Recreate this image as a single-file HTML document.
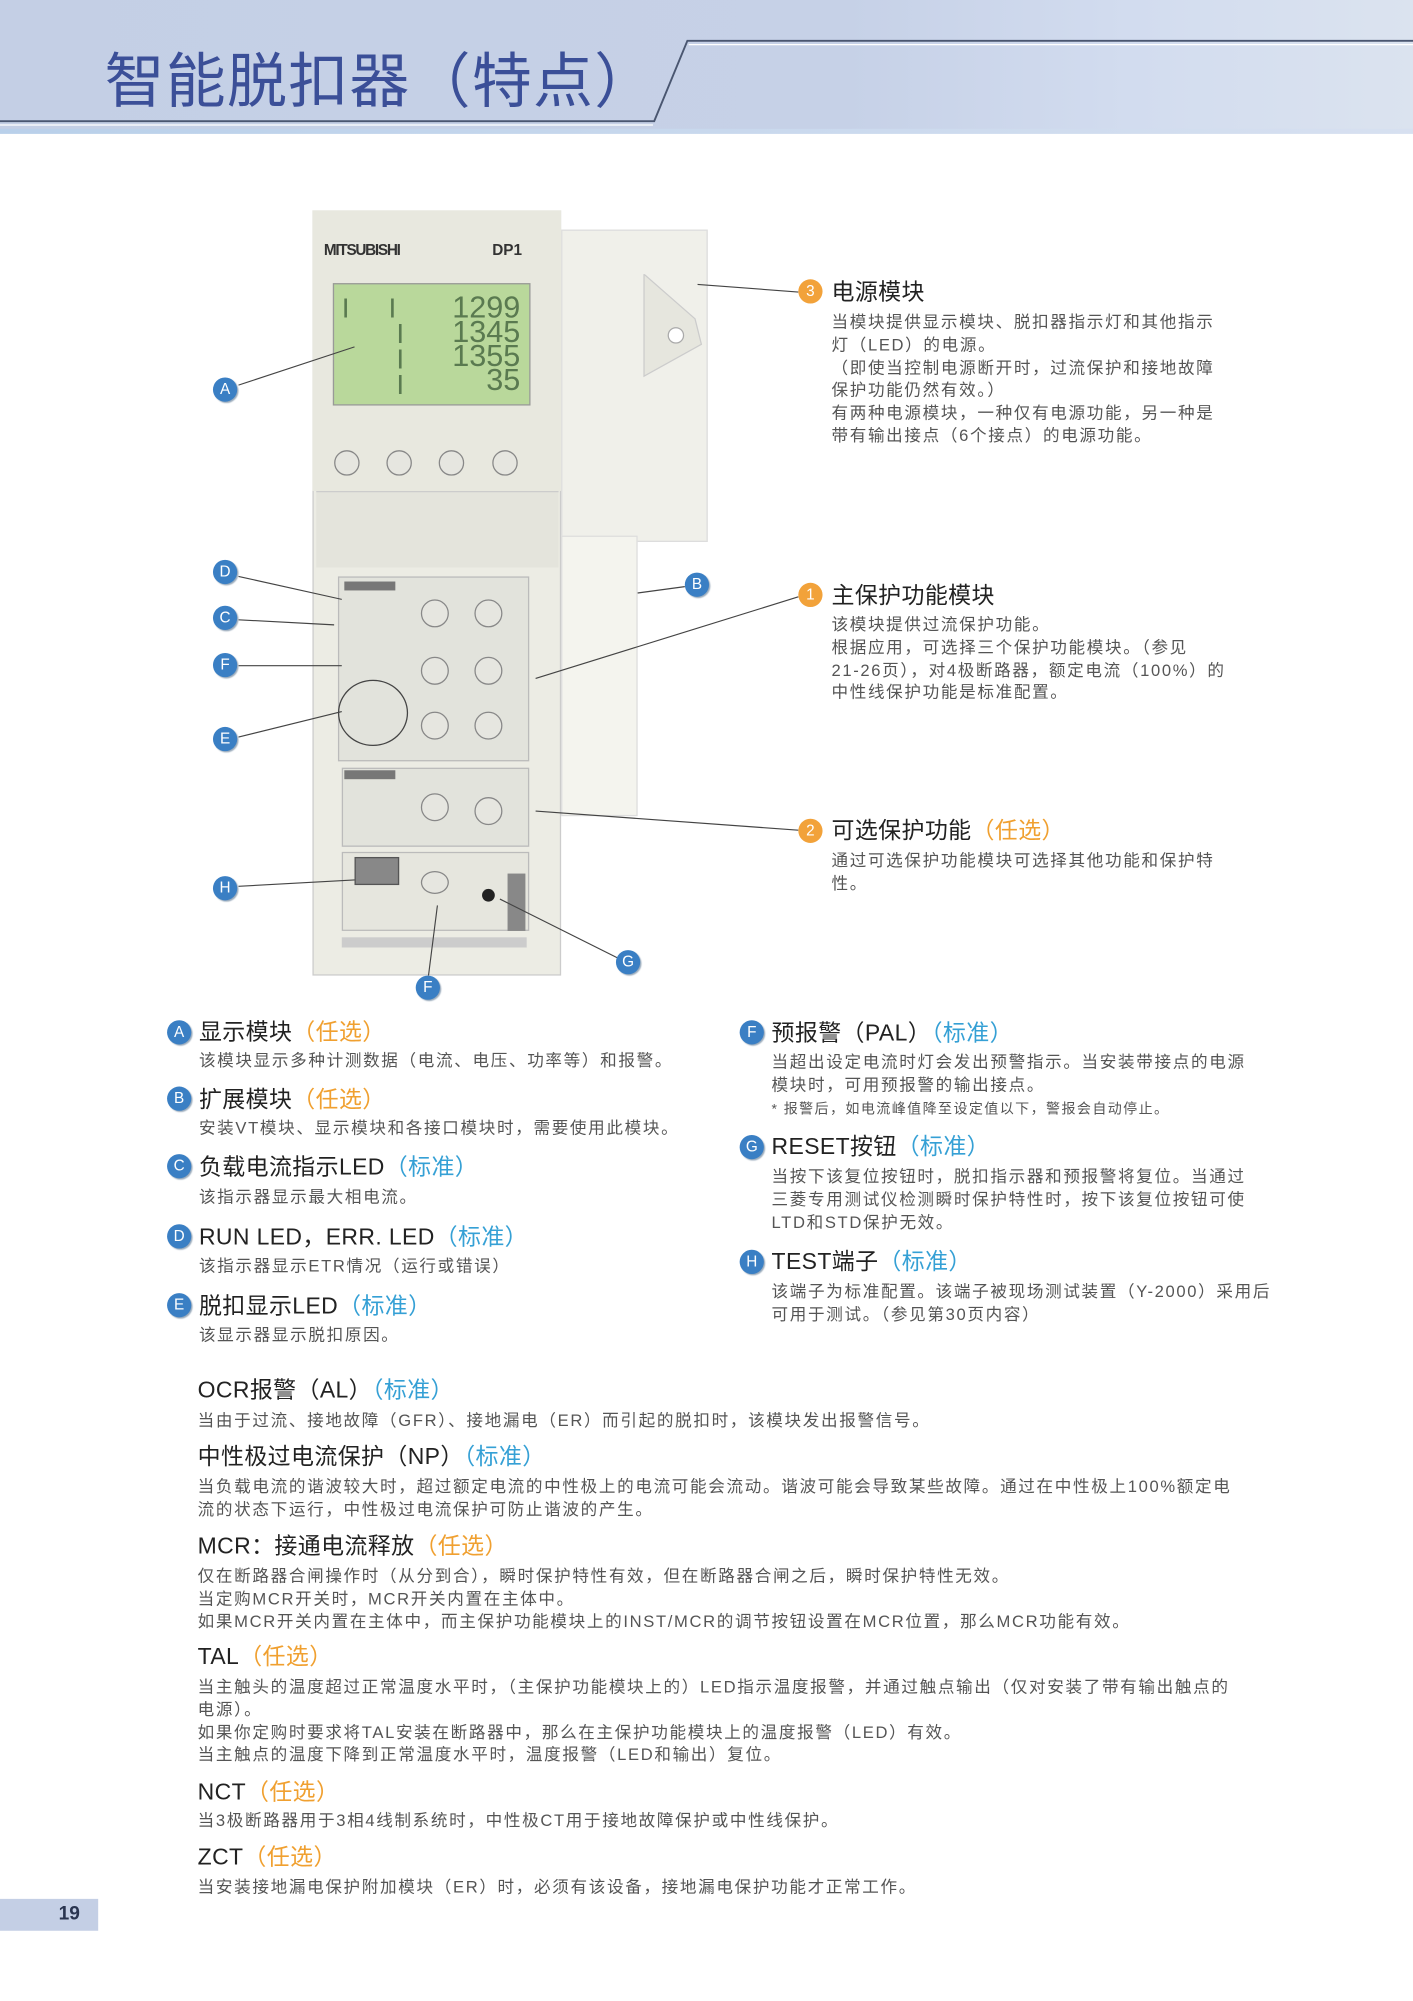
<!DOCTYPE html>
<html><head><meta charset="utf-8">
<style>
html,body{margin:0;padding:0;width:1413px;height:2000px;overflow:hidden;background:#fff}
#w{position:absolute;left:0;top:0;width:1108px;height:1569px;transform:scale(1.27527);transform-origin:0 0;font-family:"Liberation Sans","Noto Sans CJK SC",sans-serif}
.a{position:absolute;white-space:nowrap}
.h{font-size:18px;color:#222;line-height:20px;letter-spacing:0.3px}
.b{font-size:13px;color:#555;line-height:17.8px;letter-spacing:1.3px}
.o{color:#f0a030}.c{color:#35a0d5}
.cb{position:absolute;width:19px;height:19px;border-radius:50%;background:#3a7fc4;color:#fff;font-size:12px;line-height:19px;text-align:center;box-shadow:1px 1px 1px #9ab}
.co{position:absolute;width:19px;height:19px;border-radius:50%;background:#f2a23a;color:#fff;font-size:12px;line-height:19px;text-align:center}
.r{position:absolute;box-sizing:border-box}
.k{position:absolute;width:20px;height:20px;border-radius:50%;border:1.5px solid #888;background:#e6e6e0;box-sizing:border-box}
</style></head><body><div id="w">
<div class="r" style="left:0;top:0;width:1108px;height:102px;background:linear-gradient(90deg,#c4cfe5 0%,#c6d1e7 60%,#d2dcef 80%,#dbe3ef 100%)"></div>
<div class="r" style="left:0;top:101px;width:1108px;height:4px;background:linear-gradient(90deg,#b9d0ea,#d7e0f0)"></div>
<svg class="a" style="left:0;top:0" width="1108" height="110">
<polyline points="0,95 513,95 539,32 1108,32" fill="none" stroke="#4a5670" stroke-width="1.5"/>
<polyline points="0,98 512,98" stroke="#fff" stroke-width="1"/>
<polyline points="540,35 1108,35" stroke="#fff" stroke-width="1"/>
</svg>
<div class="a" style="left:82px;top:36px;font-size:47px;color:#3b4f98;line-height:56px;letter-spacing:1px">智能脱扣器（特点）</div>

<!-- device -->
<div class="r" style="left:440px;top:180px;width:115px;height:245px;background:#f0f0ea;border:1px solid #ddd"></div>
<svg class="a" style="left:495px;top:215px" width="60" height="90"><polygon points="10,0 50,35 55,55 10,80" fill="#e6e6de" stroke="#ccc"/><circle cx="35" cy="48" r="6" fill="#fff" stroke="#aaa"/></svg>
<div class="r" style="left:440px;top:420px;width:60px;height:220px;background:#f4f4ee;border:1px solid #ddd"></div>
<div class="r" style="left:245px;top:165px;width:195px;height:600px;background:#ecece4;border:1px solid #ccc"></div>
<div class="r" style="left:245px;top:165px;width:195px;height:220px;background:#e8e8df"></div>
<div class="a" style="left:254px;top:189px;font-size:12px;font-weight:bold;color:#333;letter-spacing:-1px">MITSUBISHI</div>
<div class="a" style="left:386px;top:189px;font-size:12px;font-weight:bold;color:#333">DP1</div>
<div class="r" style="left:261px;top:222px;width:155px;height:96px;background:#b9d89b;border:1px solid #999"></div>
<div class="a" style="left:330px;top:232px;font-size:24px;line-height:19px;color:#5a7a50;text-align:right;width:78px">1299<br>1345<br>1355<br>35</div>
<div class="a" style="left:268px;top:232px;font-size:22px;color:#5a7a50;line-height:20px">I&nbsp;&nbsp;&nbsp;&nbsp;&nbsp;I<br>&nbsp;&nbsp;&nbsp;&nbsp;&nbsp;&nbsp;&nbsp;I<br>&nbsp;&nbsp;&nbsp;&nbsp;&nbsp;&nbsp;&nbsp;I<br>&nbsp;&nbsp;&nbsp;&nbsp;&nbsp;&nbsp;&nbsp;I</div>
<div class="k" style="left:262px;top:353px"></div><div class="k" style="left:303px;top:353px"></div><div class="k" style="left:344px;top:353px"></div><div class="k" style="left:386px;top:353px"></div>
<div class="r" style="left:248px;top:385px;width:190px;height:60px;background:#e4e4dc;border-top:1px solid #ccc"></div>
<div class="r" style="left:265px;top:452px;width:150px;height:145px;background:#e2e3dc;border:1px solid #bbb"></div>
<div class="r" style="left:268px;top:602px;width:147px;height:62px;background:#e2e3dc;border:1px solid #bbb"></div>
<div class="r" style="left:268px;top:668px;width:147px;height:62px;background:#e6e6de;border:1px solid #bbb"></div>
<div class="r" style="left:278px;top:672px;width:35px;height:22px;background:#888;border:1px solid #555"></div>
<div class="r" style="left:398px;top:685px;width:14px;height:45px;background:#888"></div>
<div class="r" style="left:378px;top:697px;width:10px;height:10px;border-radius:50%;background:#222"></div>
<div class="r" style="left:268px;top:735px;width:145px;height:8px;background:#ccc"></div>
<div class="k" style="left:330px;top:470px;width:22px;height:22px"></div><div class="k" style="left:372px;top:470px;width:22px;height:22px"></div>
<div class="k" style="left:330px;top:515px;width:22px;height:22px"></div><div class="k" style="left:372px;top:515px;width:22px;height:22px"></div>
<div class="k" style="left:330px;top:558px;width:22px;height:22px"></div><div class="k" style="left:372px;top:558px;width:22px;height:22px"></div>
<div class="k" style="left:330px;top:622px;width:22px;height:22px"></div><div class="k" style="left:372px;top:625px;width:22px;height:22px"></div>
<div class="k" style="left:330px;top:683px;width:22px;height:18px"></div>
<div class="r" style="left:265px;top:533px;width:55px;height:52px;border:1px solid #444;border-radius:50%"></div>
<div class="r" style="left:270px;top:456px;width:40px;height:7px;background:#777"></div>
<div class="r" style="left:270px;top:604px;width:40px;height:7px;background:#777"></div>

<svg class="a" style="left:0;top:0" width="1108" height="800" stroke="#444" stroke-width="0.9" fill="none">
<line x1="187" y1="302" x2="278" y2="272"/><line x1="187" y1="452" x2="268" y2="470"/>
<line x1="187" y1="486" x2="262" y2="490"/><line x1="187" y1="522" x2="268" y2="522"/>
<line x1="187" y1="578" x2="268" y2="558"/><line x1="187" y1="695" x2="278" y2="690"/>
<line x1="336" y1="765" x2="343" y2="710"/><line x1="484" y1="751" x2="392" y2="705"/>
<line x1="537" y1="460" x2="500" y2="465"/><line x1="626" y1="229" x2="547" y2="223"/>
<line x1="626" y1="468" x2="420" y2="532"/><line x1="626" y1="651" x2="420" y2="636"/>
</svg>
<div class="cb" style="left:167px;top:296px">A</div><div class="cb" style="left:167px;top:439px">D</div>
<div class="cb" style="left:167px;top:475px">C</div><div class="cb" style="left:167px;top:512px">F</div>
<div class="cb" style="left:167px;top:570px">E</div><div class="cb" style="left:167px;top:687px">H</div>
<div class="cb" style="left:326px;top:765px">F</div><div class="cb" style="left:483px;top:745px">G</div>
<div class="cb" style="left:537px;top:449px">B</div>
<div class="co" style="left:626px;top:219px">3</div><div class="co" style="left:626px;top:457px">1</div><div class="co" style="left:626px;top:642px">2</div>

<div class="a h" style="left:652px;top:219px">电源模块</div>
<div class="a b" style="left:652px;top:244px">当模块提供显示模块、脱扣器指示灯和其他指示<br>灯（LED）的电源。<br>（即使当控制电源断开时，过流保护和接地故障<br>保护功能仍然有效。）<br>有两种电源模块，一种仅有电源功能，另一种是<br>带有输出接点（6个接点）的电源功能。</div>
<div class="a h" style="left:652px;top:457px">主保护功能模块</div>
<div class="a b" style="left:652px;top:481px">该模块提供过流保护功能。<br>根据应用，可选择三个保护功能模块。（参见<br>21-26页），对4极断路器，额定电流（100%）的<br>中性线保护功能是标准配置。</div>
<div class="a h" style="left:652px;top:641px">可选保护功能<span class="o">（任选）</span></div>
<div class="a b" style="left:652px;top:666px">通过可选保护功能模块可选择其他功能和保护特<br>性。</div>

<div class="cb" style="left:131px;top:800px">A</div><div class="a h" style="left:156px;top:799px">显示模块<span class="o">（任选）</span></div>
<div class="a b" style="left:156px;top:823px">该模块显示多种计测数据（电流、电压、功率等）和报警。</div>
<div class="cb" style="left:131px;top:852px">B</div><div class="a h" style="left:156px;top:852px">扩展模块<span class="o">（任选）</span></div>
<div class="a b" style="left:156px;top:876px">安装VT模块、显示模块和各接口模块时，需要使用此模块。</div>
<div class="cb" style="left:131px;top:905px">C</div><div class="a h" style="left:156px;top:905px">负载电流指示LED<span class="c">（标准）</span></div>
<div class="a b" style="left:156px;top:930px">该指示器显示最大相电流。</div>
<div class="cb" style="left:131px;top:960px">D</div><div class="a h" style="left:156px;top:960px">RUN LED，ERR. LED<span class="c">（标准）</span></div>
<div class="a b" style="left:156px;top:984px">该指示器显示ETR情况（运行或错误）</div>
<div class="cb" style="left:131px;top:1014px">E</div><div class="a h" style="left:156px;top:1014px">脱扣显示LED<span class="c">（标准）</span></div>
<div class="a b" style="left:156px;top:1038px">该显示器显示脱扣原因。</div>

<div class="cb" style="left:580px;top:800px">F</div><div class="a h" style="left:605px;top:800px">预报警（PAL）<span class="c">（标准）</span></div>
<div class="a b" style="left:605px;top:824px">当超出设定电流时灯会发出预警指示。当安装带接点的电源<br>模块时，可用预报警的输出接点。</div>
<div class="a b" style="left:605px;top:862px;font-size:11px;letter-spacing:1.1px">* 报警后，如电流峰值降至设定值以下，警报会自动停止。</div>
<div class="cb" style="left:580px;top:890px">G</div><div class="a h" style="left:605px;top:889px">RESET按钮<span class="c">（标准）</span></div>
<div class="a b" style="left:605px;top:914px">当按下该复位按钮时，脱扣指示器和预报警将复位。当通过<br>三菱专用测试仪检测瞬时保护特性时，按下该复位按钮可使<br>LTD和STD保护无效。</div>
<div class="cb" style="left:580px;top:980px">H</div><div class="a h" style="left:605px;top:979px">TEST端子<span class="c">（标准）</span></div>
<div class="a b" style="left:605px;top:1004px">该端子为标准配置。该端子被现场测试装置（Y-2000）采用后<br>可用于测试。（参见第30页内容）</div>

<div class="a h" style="left:155px;top:1080px">OCR报警（AL）<span class="c">（标准）</span></div>
<div class="a b" style="left:155px;top:1105px">当由于过流、接地故障（GFR）、接地漏电（ER）而引起的脱扣时，该模块发出报警信号。</div>
<div class="a h" style="left:155px;top:1132px">中性极过电流保护（NP）<span class="c">（标准）</span></div>
<div class="a b" style="left:155px;top:1157px">当负载电流的谐波较大时，超过额定电流的中性极上的电流可能会流动。谐波可能会导致某些故障。通过在中性极上100%额定电<br>流的状态下运行，中性极过电流保护可防止谐波的产生。</div>
<div class="a h" style="left:155px;top:1202px">MCR：接通电流释放<span class="o">（任选）</span></div>
<div class="a b" style="left:155px;top:1227px">仅在断路器合闸操作时（从分到合），瞬时保护特性有效，但在断路器合闸之后，瞬时保护特性无效。<br>当定购MCR开关时，MCR开关内置在主体中。<br>如果MCR开关内置在主体中，而主保护功能模块上的INST/MCR的调节按钮设置在MCR位置，那么MCR功能有效。</div>
<div class="a h" style="left:155px;top:1289px">TAL<span class="o">（任选）</span></div>
<div class="a b" style="left:155px;top:1314px">当主触头的温度超过正常温度水平时，（主保护功能模块上的）LED指示温度报警，并通过触点输出（仅对安装了带有输出触点的<br>电源）。<br>如果你定购时要求将TAL安装在断路器中，那么在主保护功能模块上的温度报警（LED）有效。<br>当主触点的温度下降到正常温度水平时，温度报警（LED和输出）复位。</div>
<div class="a h" style="left:155px;top:1395px">NCT<span class="o">（任选）</span></div>
<div class="a b" style="left:155px;top:1419px">当3极断路器用于3相4线制系统时，中性极CT用于接地故障保护或中性线保护。</div>
<div class="a h" style="left:155px;top:1446px">ZCT<span class="o">（任选）</span></div>
<div class="a b" style="left:155px;top:1471px">当安装接地漏电保护附加模块（ER）时，必须有该设备，接地漏电保护功能才正常工作。</div>

<div class="r" style="left:0;top:1489px;width:77px;height:25px;background:#c4cfe5"></div>
<div class="a" style="left:46px;top:1492px;font-size:15px;font-weight:bold;color:#2a3550">19</div>
</div></body></html>
